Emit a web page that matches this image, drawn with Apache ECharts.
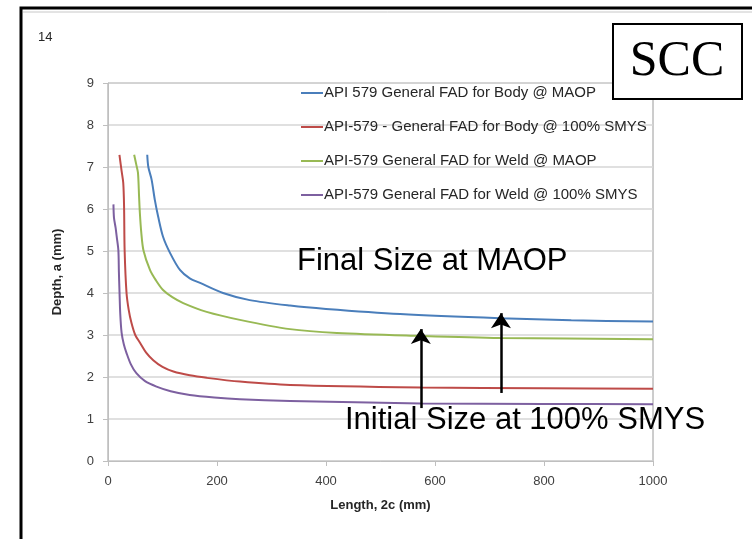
<!DOCTYPE html>
<html>
<head>
<meta charset="utf-8">
<script src="https://cdn.jsdelivr.net/npm/echarts@6/dist/echarts.min.js"></script>
<style>
  html, body { margin: 0; padding: 0; background: #fff; }
  #chart { width: 752px; height: 539px; }
</style>
</head>
<body>
<div id="chart"></div>
<script>
// curves: [length 2c (mm), depth a (mm)]
var bodyMaop = [[72,7.29],[74,7.0],[80,6.7],[86,6.21],[92,5.82],[101,5.34],[114,4.95],[132,4.55],[150,4.35],[169,4.24],[211,4.0],[260,3.83],[334,3.70],[400,3.62],[536,3.50],[719,3.40],[850,3.35],[1000,3.32]];
var bodySmys = [[21,7.29],[25,6.9],[28,6.62],[29.5,6.05],[30.5,5.02],[34,4.0],[38,3.6],[43,3.29],[50,3.0],[59,2.81],[70,2.58],[83,2.40],[100,2.24],[120,2.13],[150,2.04],[181,1.98],[242,1.89],[334,1.81],[574,1.75],[800,1.73],[1000,1.72]];
var weldMaop = [[48,7.29],[52,7.05],[55,6.86],[57,6.3],[58.5,5.9],[61,5.45],[65,5.02],[77,4.55],[88,4.3],[101,4.07],[118,3.9],[138,3.76],[181,3.55],[242,3.36],[334,3.14],[420,3.05],[572,2.98],[719,2.93],[1000,2.90]];
var weldSmys = [[10,6.11],[11,5.79],[14,5.55],[16,5.34],[19,5.02],[20,4.5],[21,4.07],[22.5,3.5],[25,3.05],[29,2.78],[34,2.57],[42,2.3],[52,2.09],[68,1.9],[89,1.77],[115,1.66],[150,1.57],[195,1.51],[242,1.47],[334,1.43],[574,1.37],[800,1.36],[1000,1.35]];

var names = [
  'API 579 General FAD for Body @ MAOP',
  'API-579 - General FAD for Body @ 100% SMYS',
  'API-579 General FAD for Weld @ MAOP',
  'API-579 General FAD for Weld @ 100% SMYS'
];
var colors = ['#4a7ebb', '#be4b48', '#98b954', '#7d60a0'];

// arrows: from initial size up to final size
var arrows = [
  [[574, 1.26], [574, 3.14]],
  [[721, 1.62], [721, 3.52]]
];

var chart = echarts.init(document.getElementById('chart'));
var allData = [bodyMaop, bodySmys, weldMaop, weldSmys];

var series = [];
for (var i = 0; i < allData.length; i++) {
  series.push({
    name: names[i],
    type: 'line',
    data: allData[i],
    symbol: 'none',
    smooth: 0.3,
    lineStyle: { color: colors[i], width: 2 },
    itemStyle: { color: colors[i] }
  });
}
series[3].markLine = {
  silent: true,
  symbol: ['none', 'arrow'],
  symbolSize: [15, 15],
  label: { show: false },
  lineStyle: { color: '#000', width: 2.5, type: 'solid' },
  data: arrows.map(function (a) {
    return [{ coord: a[0] }, { coord: a[1] }];
  })
};

var option = {
  backgroundColor: '#fff',
  animation: false,
  grid: {
    left: 108, right: 99, top: 83, bottom: 78,
    show: true, borderColor: '#9a9a9a', borderWidth: 1
  },
  legend: {
    data: names,
    orient: 'vertical',
    left: 296, top: 80,
    icon: 'rect',
    itemWidth: 22, itemHeight: 2, itemGap: 18,
    textStyle: { fontFamily: 'Liberation Sans', fontSize: 15, lineHeight: 16, color: '#262626', padding: [0, 0, 0, -4] }
  },
  xAxis: {
    type: 'value', min: 0, max: 1000, interval: 200,
    name: 'Length, 2c (mm)', nameLocation: 'middle', nameGap: 38,
    nameTextStyle: { fontFamily: 'Liberation Sans', fontWeight: 'bold', fontSize: 13, color: '#262626' },
    axisLine: { show: true, lineStyle: { color: '#bfbfbf' } },
    axisTick: { show: true, length: 5, lineStyle: { color: '#bfbfbf' } },
    axisLabel: { fontFamily: 'Liberation Sans', fontSize: 13, color: '#404040', margin: 14,
      formatter: function (v) { return String(v); } },
    splitLine: { show: false }
  },
  yAxis: {
    type: 'value', min: 0, max: 9, interval: 1,
    name: 'Depth, a (mm)', nameLocation: 'middle', nameGap: 44,
    nameTextStyle: { fontFamily: 'Liberation Sans', fontWeight: 'bold', fontSize: 13, color: '#262626' },
    axisLine: { show: true, lineStyle: { color: '#bfbfbf' } },
    axisTick: { show: true, length: 5, lineStyle: { color: '#bfbfbf' } },
    axisLabel: { fontFamily: 'Liberation Sans', fontSize: 13, color: '#404040', margin: 14 },
    splitLine: { show: true, lineStyle: { color: '#d6d6d6', width: 1.5 } }
  },
  graphic: [
    { type: 'rect', shape: { x: 21, y: 8, width: 800, height: 600 }, style: { fill: 'none', stroke: '#000', lineWidth: 3 }, z: 100 },
    { type: 'line', shape: { x1: 23, y1: 12, x2: 752, y2: 12 }, style: { stroke: '#c8c8c8', lineWidth: 1 }, z: 100 },
    { type: 'text', left: 38, top: 31, style: { text: '14', font: '13px "Liberation Sans"', fill: '#262626' } },
    { type: 'text', left: 297, top: 246, style: { text: 'Final Size at MAOP', font: '31px "Liberation Sans"', fill: '#000' }, z: 50 },
    { type: 'text', left: 345, top: 405, style: { text: 'Initial Size at 100% SMYS', font: '31px "Liberation Sans"', fill: '#000' }, z: 50 },
    { type: 'rect', shape: { x: 613, y: 24, width: 129, height: 75 }, style: { fill: '#fff', stroke: '#000', lineWidth: 2 }, z: 60 },
    { type: 'text', x: 677, y: 62, style: { text: 'SCC', font: '50px "Liberation Serif"', fill: '#000', align: 'center', verticalAlign: 'middle' }, z: 61 }
  ],
  series: series
};

option && chart.setOption(option);
</script>
</body>
</html>
